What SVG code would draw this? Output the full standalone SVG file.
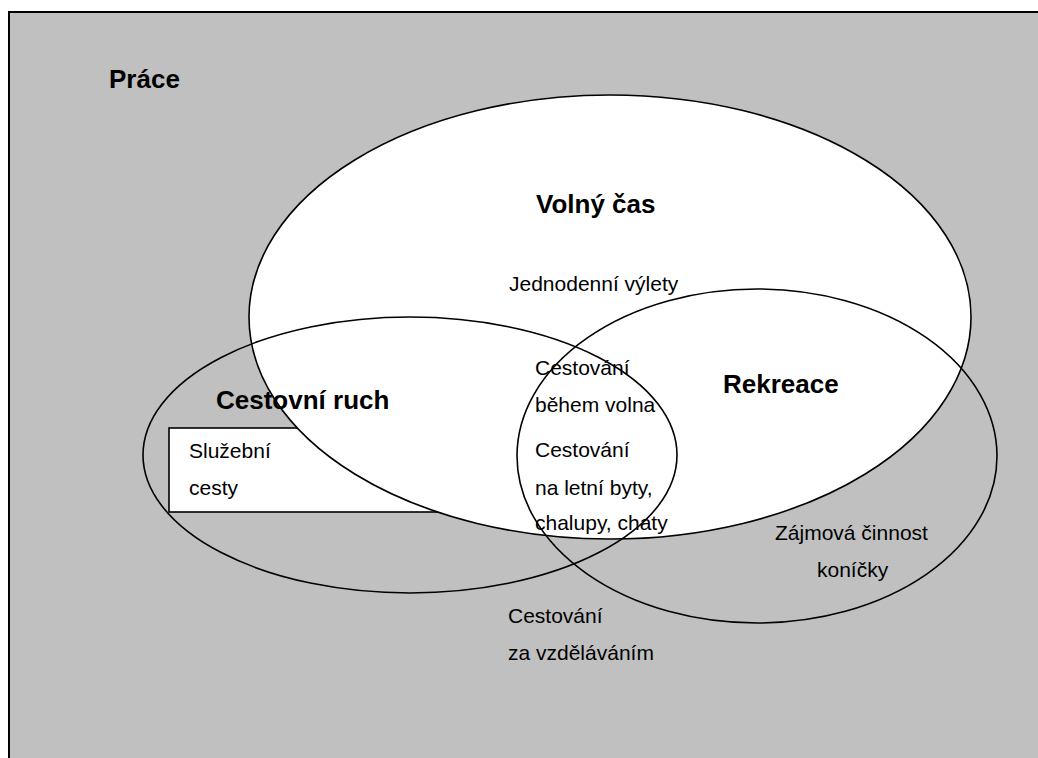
<svg xmlns="http://www.w3.org/2000/svg" width="1038" height="758" viewBox="0 0 1038 758">
<style>
.frame{fill:#c0c0c0;stroke:#000;stroke-width:2}
.shape{stroke:#000;stroke-width:1.6}
.t{font-family:"Liberation Sans",Arial,sans-serif;font-size:21px;fill:#000}
.b{font-family:"Liberation Sans",Arial,sans-serif;font-size:26px;font-weight:bold;fill:#000}
</style>
<rect width="1038" height="758" fill="#fff"/>
<g id="prace">
<rect class="frame" x="9" y="12" width="1040" height="760"/>
<text class="b" x="109" y="88">Práce</text>
</g>
<g id="sluzebni">
<rect class="shape" x="169" y="428" width="300" height="84" fill="#fff"/>
</g>
<g id="volny-cas">
<ellipse class="shape" cx="610" cy="317" rx="361" ry="222" fill="#fff"/>
</g>
<g id="cestovni-ruch">
<ellipse class="shape" cx="410" cy="455" rx="267" ry="138" fill="none"/>
</g>
<g id="rekreace">
<ellipse class="shape" cx="757" cy="456" rx="240" ry="167" fill="none"/>
</g>
<g id="labels">
<text class="b" x="536" y="213">Volný čas</text>
<text class="t" x="509" y="291">Jednodenní výlety</text>
<text class="b" x="216" y="409">Cestovní ruch</text>
<text class="b" x="723" y="393">Rekreace</text>
<text class="t" x="535" y="375">Cestování</text>
<text class="t" x="535" y="412">během volna</text>
<text class="t" x="535" y="457">Cestování</text>
<text class="t" x="535" y="495">na letní byty,</text>
<text class="t" x="535" y="530">chalupy, chaty</text>
<text class="t" x="189" y="458">Služební</text>
<text class="t" x="189" y="495">cesty</text>
<text class="t" x="775" y="540">Zájmová činnost</text>
<text class="t" x="817" y="577">koníčky</text>
<text class="t" x="508" y="623">Cestování</text>
<text class="t" x="508" y="660">za vzděláváním</text>
</g>
<g id="connectors"/>
</svg>
